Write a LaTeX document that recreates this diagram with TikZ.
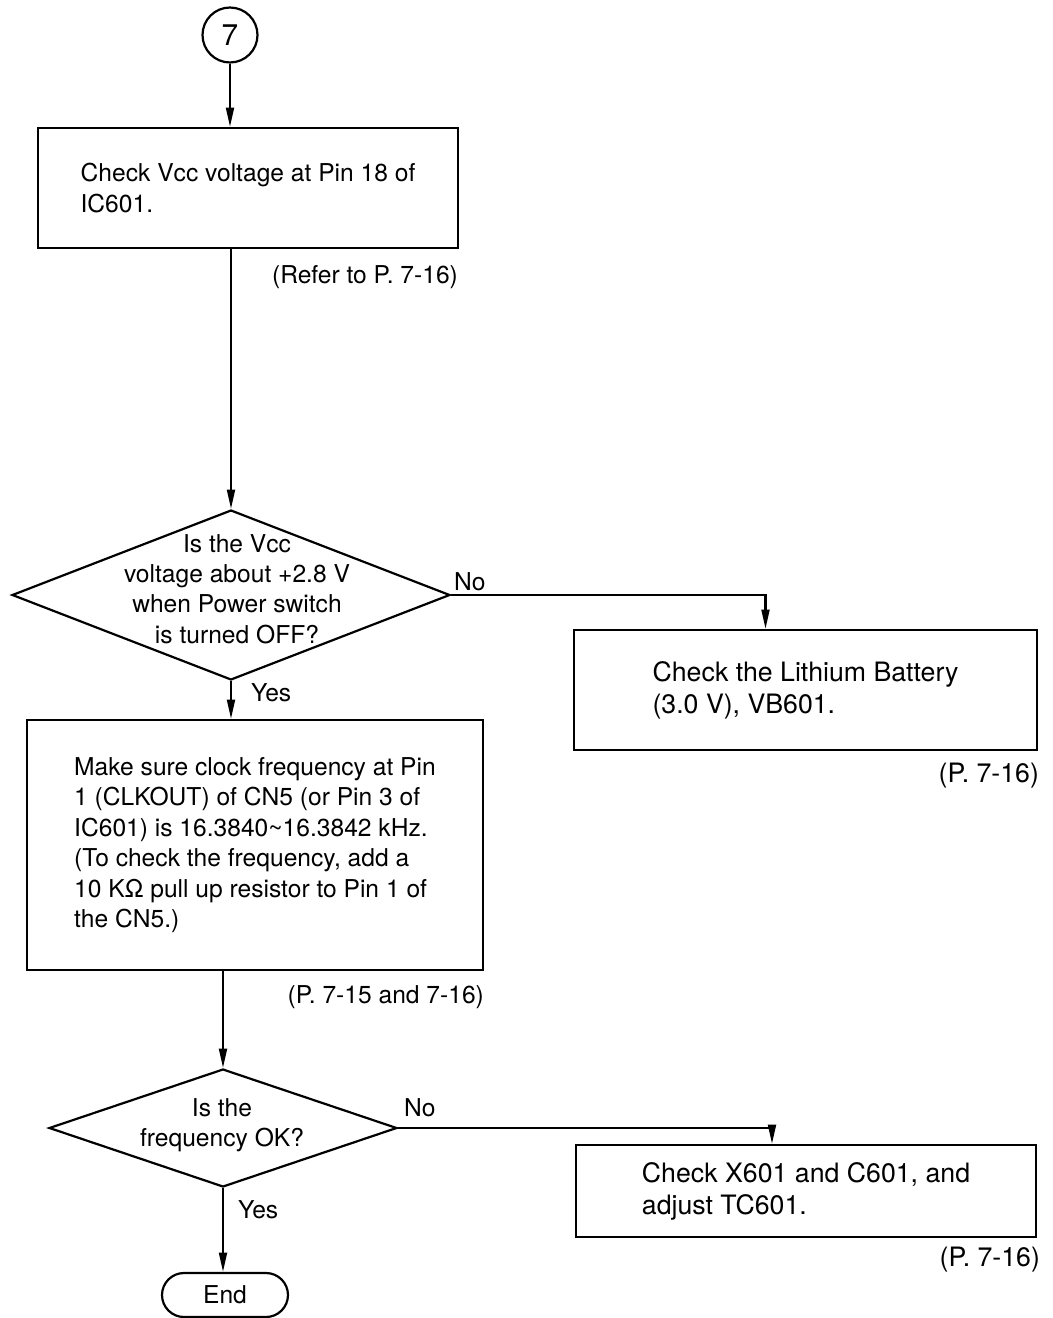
\documentclass[tikz,border=0pt]{standalone}
\usepackage{fontspec}
\setmainfont{TeX Gyre Heros}
\usetikzlibrary{arrows.meta,calc,shapes.geometric}
\tikzset{
  chart/.style={
    x=0.02cm, y=-0.02cm,
    line width=1.25pt,
    line join=miter,
    font=\fontsize{14pt}{17.3pt}\selectfont
  },
  flow/.style={-{Triangle[length=11pt,width=4.5pt]}},
  larger/.style={font=\fontsize{15.2pt}{18.2pt}\selectfont},
  step-box/.style={
    rectangle,
    draw=black,
    align=left,
    inner sep=0pt
  },
  ask-shape/.style={
    diamond,
    draw=black,
    inner sep=0pt
  },
  ask-text/.style={align=center, inner sep=0pt},
  link-circle/.style={
    circle,
    draw=black,
    minimum size=1.1cm,
    inner sep=0pt,
    font=\fontsize{17pt}{20pt}\selectfont
  },
  end-box/.style={
    rectangle,
    draw=black,
    rounded corners=0.44cm,
    minimum width=2.52cm,
    minimum height=0.88cm,
    inner sep=0pt
  },
  ref-note/.style={anchor=east, inner sep=0pt},
  answer/.style={anchor=base west, inner sep=0pt}
}

\begin{document}
\begin{tikzpicture}[chart]
  \useasboundingbox (0,0) rectangle (1052,1318);
  % entry point and first check
  \node[link-circle] (c7) at (230,35) {7};
  \node[step-box, minimum width=8.4cm, minimum height=2.4cm] (box1) at (248,188)
    {Check Vcc voltage at Pin 18 of\\IC601.};
  \node[ref-note] (ref1) at (459,277) {(Refer to P. 7-16)};
  % first decision
  \node[ask-shape, minimum width=8.76cm, minimum height=3.4cm] (q1) at (231,595) {};
  \node[ask-text] (q1t) at (237,589)
    {Is the Vcc\\voltage about +2.8 V\\when Power switch\\is turned OFF?};
  \node[step-box, larger, minimum width=9.26cm, minimum height=2.4cm] (box2) at (805.5,690)
    {Check the Lithium Battery\\(3.0 V), VB601.};
  \node[ref-note, larger] (ref2) at (1040,776) {(P. 7-16)};
  \node[step-box, minimum width=9.12cm, minimum height=5cm] (box3) at (255,845)
    {Make sure clock frequency at Pin\\
     1 (CLKOUT) of CN5 (or Pin 3 of\\
     IC601) is 16.3840\textasciitilde16.3842 kHz.\\
     (To check the frequency, add a\\
     10 KΩ pull up resistor to Pin 1 of\\
     the CN5.)};
  \node[ref-note] (ref3) at (485,997) {(P. 7-15 and 7-16)};
  % second decision
  \node[ask-shape, minimum width=6.96cm, minimum height=2.36cm] (q2) at (223,1128) {};
  \node[ask-text] (q2t) at (222,1125) {Is the\\frequency OK?};
  \node[step-box, larger, minimum width=9.2cm, minimum height=1.84cm] (box4) at (806,1191)
    {Check X601 and C601, and\\adjust TC601.};
  \node[ref-note, larger] (ref4) at (1041,1260) {(P. 7-16)};
  \node[end-box] (fin) at (225,1295) {End};

  \draw[flow] (c7.south) -- (c7.south |- box1.north);
  \draw[flow] (box1.south -| q1.north) -- (q1.north);
  \draw[flow] (q1.east) -| ($(box2.north)+(-40,0)$);
  \node[answer] (no1) at (453,590) {No};
  \draw[flow] (q1.south) -- (q1.south |- box3.north);
  \node[answer] (yes1) at (250,701) {Yes};
  \draw[flow] (box3.south -| q2.north) -- (q2.north);
  \draw[flow] (q2.east) -| ($(box4.north)+(-34,0)$);
  \node[answer] (no2) at (403,1116) {No};
  \draw[flow] (q2.south) -- (q2.south |- fin.north);
  \node[answer] (yes2) at (237,1218) {Yes};
\end{tikzpicture}
\end{document}
